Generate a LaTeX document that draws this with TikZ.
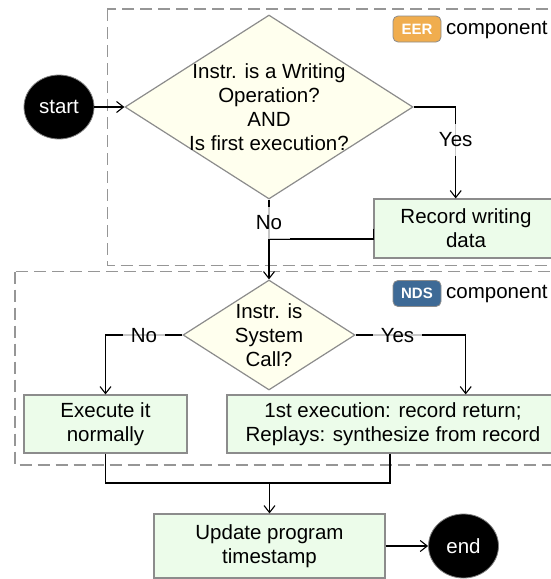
\documentclass[tikz,border=0pt]{standalone}
\usepackage{fontspec}
\setmainfont{Liberation Sans}
\usetikzlibrary{arrows.meta,shapes.geometric}
\definecolor{boxfill}{RGB}{236,252,234}
\definecolor{dfill}{RGB}{255,255,238}
\definecolor{bord}{RGB}{140,140,140}
\definecolor{dashgray}{RGB}{150,150,150}
\definecolor{eerc}{RGB}{240,173,78}
\definecolor{ndsc}{RGB}{62,106,150}
\begin{document}
\begin{tikzpicture}[x=1pt,y=-1pt,
  every node/.style={font=\fontsize{20.5}{24}\selectfont},
  box/.style={draw=bord, line width=1.2pt, fill=boxfill, align=center, inner sep=0pt},
  dia/.style={diamond, draw=bord, line width=1.2pt, fill=dfill, inner sep=0pt},
  term/.style={ellipse, fill=black, draw=gray, line width=0.8pt, text=white, minimum width=70pt, minimum height=64pt, inner sep=0pt},
  conn/.style={line width=1.2pt, black},
  arr/.style={conn, -{Straight Barb[length=7pt,width=11pt,line width=1.1pt]}},
  lbl/.style={fill=white, fill opacity=0.78, text opacity=1, inner xsep=8pt, inner ysep=0pt, minimum height=32pt},
  grp/.style={draw=dashgray, line width=1.2pt, dash pattern=on 12pt off 6pt},
  badge/.style={rounded corners=5pt, draw=bord, line width=0.8pt, text=white, font=\fontsize{15}{18}\selectfont\bfseries, minimum width=48pt, minimum height=26pt, inner sep=0pt},
]
\useasboundingbox (0,0) rectangle (550,579);
% groups
\draw[grp] (107.3,9) rectangle (620,265.7);
\draw[grp] (15,271.7) rectangle (620,465);
% badges
\node[badge, fill=eerc] (eer) at (417,29) {EER};
\node[anchor=base west, inner sep=0pt] (eert) at (446,34) {component};
\node[badge, fill=ndsc] (nds) at (417,293.5) {NDS};
\node[anchor=base west, inner sep=0pt] (ndst) at (446,298.5) {component};
% nodes
\node[term] (start) at (59,107) {start};
\node[dia, minimum width=288pt, minimum height=184pt] (d1) at (269,107) {};
\node[align=center, inner sep=0pt] (d1t) at (d1.center) {Instr. is a Writing\\Operation?\\AND\\Is first execution?};
\node[box, minimum width=184pt, minimum height=59pt] (rec) at (466,228.5) {Record writing\\data};
\node[dia, minimum width=172pt, minimum height=110pt] (d2) at (269,335) {};
\node[align=center, inner sep=0pt] (d2t) at (d2.center) {Instr. is\\System\\Call?};
\node[box, minimum width=163pt, minimum height=58pt] (exe) at (105.5,424) {Execute it\\normally};
\node[box, minimum width=332pt, minimum height=58pt] (sys) at (393,424) {1st execution: record return;\\Replays: synthesize from record};
\node[box, minimum width=231pt, minimum height=64pt] (upd) at (269.5,546) {Update program\\timestamp};
\node[term] (end) at (463.5,546) {end};
% connectors
\draw[arr] (start) -- (d1.west);
\draw[arr] (d1.east) -| ([xshift=-10.3pt]rec.north);
\draw[arr] (d1.south) -- (d2.north);
\coordinate (j1) at (269,239);
\draw[conn] (rec.west) |- (j1);
\draw[arr] (d2.west) -| (exe.north);
\draw[arr] (d2.east) -| ([xshift=72.7pt]sys.north);
\coordinate (m) at (269.5,483);
\draw[conn] (exe.south) |- (m);
\draw[conn] ([xshift=-3pt]sys.south) |- (m);
\draw[arr] (m) -- (upd.north);
\draw[arr] (upd.east) -- (end.west);
% labels
\node[lbl] (l1) at (455.7,140) {Yes};
\node[lbl] (l2) at (269,223) {No};
\node[lbl] (l3) at (144,336) {No};
\node[lbl] (l4) at (397.5,336) {Yes};
\end{tikzpicture}
\end{document}
